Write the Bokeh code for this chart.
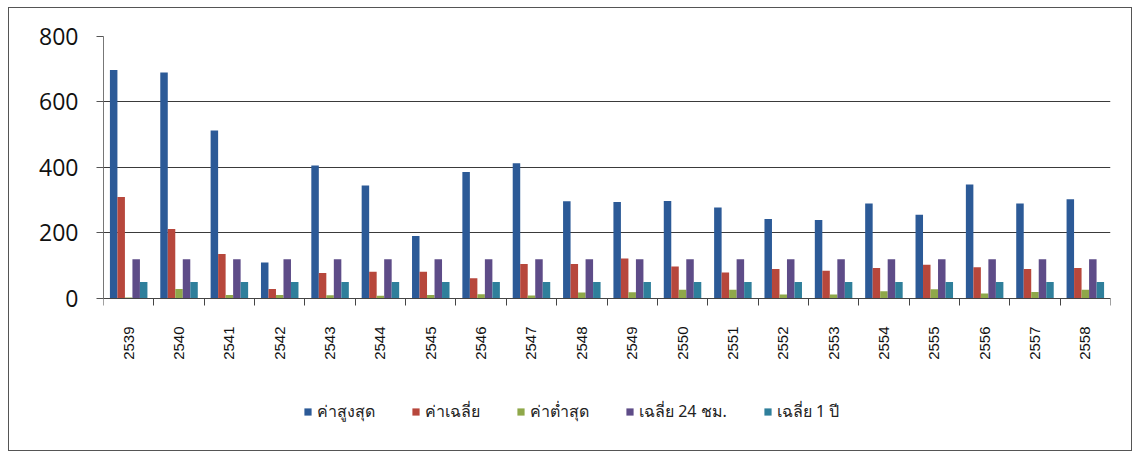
import math
from bokeh.plotting import figure
from bokeh.models import (Range1d, FixedTicker, Legend, LegendItem, ColumnDataSource)
from bokeh.transform import dodge
from bokeh.embed import file_html
from bokeh.resources import INLINE

years = ["2539", "2540", "2541", "2542", "2543", "2544", "2545", "2546", "2547", "2548",
         "2549", "2550", "2551", "2552", "2553", "2554", "2555", "2556", "2557", "2558"]
max_vals = [698, 690, 513, 110, 406, 345, 191, 386, 413, 297,
            295, 298, 278, 243, 240, 290, 256, 348, 290, 303]
mean_vals = [310, 212, 136, 29, 78, 82, 82, 62, 105, 105,
             122, 98, 79, 90, 85, 93, 103, 95, 90, 93]
min_vals = [3, 29, 11, 11, 10, 8, 11, 13, 9, 18,
            19, 27, 27, 12, 12, 22, 28, 15, 20, 27]
std24_vals = [120] * 20
std1y_vals = [50] * 20
y_ticks = [0, 200, 400, 600, 800]

series_names = ["ค่าสูงสุด", "ค่าเฉลี่ย", "ค่าต่ำสุด", "เฉลี่ย 24 ชม.", "เฉลี่ย 1 ปี"]
series_keys = ["max", "mean", "min", "s24", "s1y"]
colors = ["#2C5A97", "#B7473C", "#8FA84A", "#5E4C88", "#2F7F9B"]

centers = [i + 0.5 for i in range(len(years))]
src = ColumnDataSource(dict(x=centers, max=max_vals, mean=mean_vals, min=min_vals,
                            s24=std24_vals, s1y=std1y_vals))

# frame extends below the zero line so the legend can sit inside it
p = figure(width=1124, height=444, output_backend="svg", toolbar_location=None,
           x_range=Range1d(0, len(years)), y_range=Range1d(-452, 800),
           min_border_left=94, min_border_right=23, min_border_top=28, min_border_bottom=6)
p.styles = {"border": "1.5px solid #555", "margin-left": "8px", "margin-top": "7px"}
p.outline_line_color = None
p.background_fill_color = "white"
p.border_fill_color = "white"

bw = 0.149
renderers = []
for k, (key, c) in enumerate(zip(series_keys, colors)):
    r = p.vbar(x=dodge("x", (k - 2) * bw, range=p.x_range), top=key, width=bw,
               bottom=0, source=src, fill_color=c, line_color=None)
    renderers.append(r)

# y axis
p.yaxis.ticker = FixedTicker(ticks=y_ticks)
p.yaxis.bounds = (0, 800)
p.yaxis.major_label_text_font = "Open Sans"
p.yaxis.major_label_text_font_size = "23px"
p.yaxis.major_label_text_color = "#111111"
p.yaxis.major_tick_out = 7
p.yaxis.major_tick_in = 0
p.yaxis.major_label_standoff = 18
p.yaxis.axis_line_color = "#777777"
p.yaxis.major_tick_line_color = "#555555"
p.yaxis.minor_tick_line_color = None

# x axis, drawn at the zero line
p.xaxis.fixed_location = 0
p.xaxis.ticker = FixedTicker(ticks=centers, minor_ticks=list(range(len(years) + 1)))
p.xaxis.major_label_overrides = {c: y for c, y in zip(centers, years)}
p.xaxis.major_label_orientation = math.pi / 2
p.xaxis.major_label_text_font = "Liberation Sans"
p.xaxis.major_label_text_font_size = "15px"
p.xaxis.major_label_text_color = "#111111"
p.xaxis.major_tick_line_color = None
p.xaxis.major_tick_out = 0
p.xaxis.major_tick_in = 0
p.xaxis.minor_tick_out = 7
p.xaxis.minor_tick_in = 0
p.xaxis.minor_tick_line_color = "#444444"
p.xaxis.major_label_standoff = 21
p.xaxis.axis_line_color = "#444444"

p.xgrid.grid_line_color = None
p.ygrid.grid_line_color = "#3a3a3a"
p.ygrid.grid_line_width = 1

legend = Legend(items=[LegendItem(label=n, renderers=[r]) for n, r in zip(series_names, renderers)],
                orientation="horizontal", location=(200, 22),
                glyph_width=9, glyph_height=9, label_standoff=5, spacing=36,
                label_text_font="Noto Sans", label_text_font_size="16px",
                label_text_color="#222222", padding=0, margin=0,
                border_line_color=None, background_fill_alpha=0)
p.add_layout(legend, "center")

open("out.html", "w").write(file_html(p, INLINE))
